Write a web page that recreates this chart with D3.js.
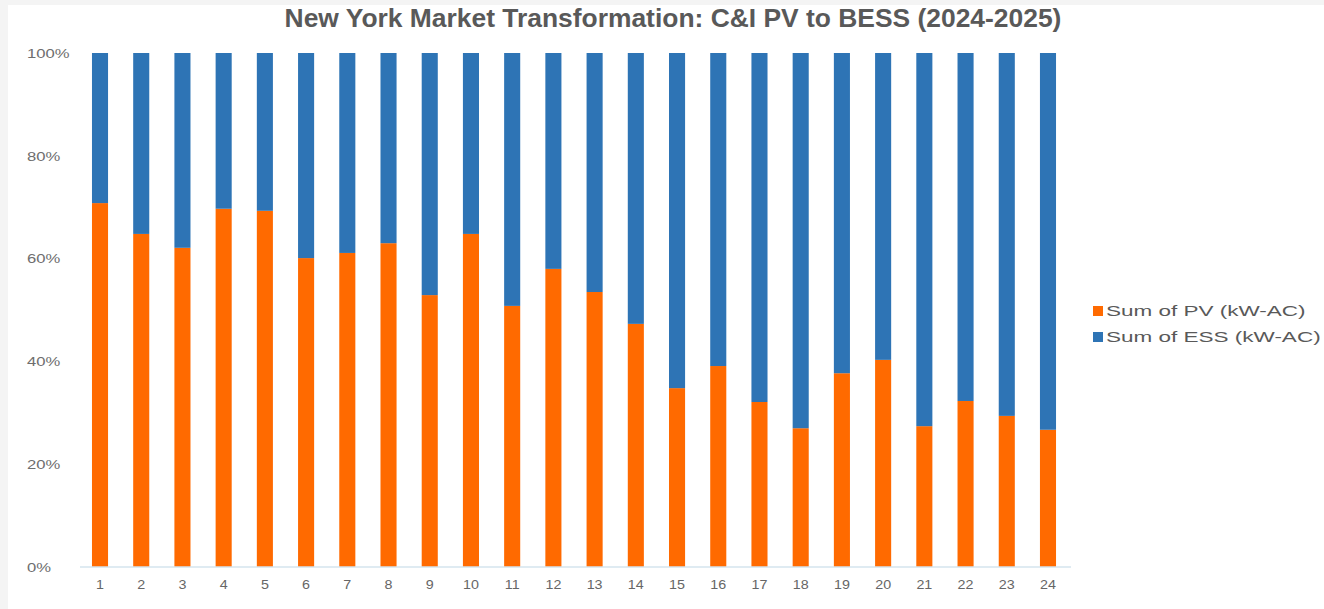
<!DOCTYPE html>
<html>
<head>
<meta charset="utf-8">
<script src="https://cdn.jsdelivr.net/npm/d3@7"></script>
<style>
  html, body { margin: 0; padding: 0; background: #f4f4f4; }
  svg { display: block; }
</style>
</head>
<body>
<svg id="chart" width="1324" height="609"></svg>
<script>
const categories = ["1","2","3","4","5","6","7","8","9","10","11","12","13","14","15","16","17","18","19","20","21","22","23","24"];
const pvShare = [0.708,0.648,0.621,0.697,0.693,0.601,0.611,0.630,0.529,0.648,0.508,0.580,0.535,0.473,0.348,0.391,0.321,0.270,0.377,0.403,0.274,0.323,0.294,0.267];
const essShare = pvShare.map(v => 1 - v);
const seriesNames = ["Sum of PV (kW-AC)", "Sum of ESS (kW-AC)"];
const yTicks = [0, 0.2, 0.4, 0.6, 0.8, 1.0];
const title = "New York Market Transformation: C&I PV to BESS (2024-2025)";

const colors = { pv: "#ff6a00", ess: "#2e74b5" };
const font = "Liberation Sans, Arial, sans-serif";

const svg = d3.select("#chart");
svg.append("rect").attr("x", 8).attr("y", 5).attr("width", 1316).attr("height", 604).attr("fill", "#ffffff");

const x = d3.scaleBand().domain(categories).range([79.4, 1068.6]).paddingInner(0.61).paddingOuter(0.305);
const y = d3.scaleLinear().domain([0, 1]).range([567, 53]);

const rows = categories.map((c, i) => ({ cat: c, pv: pvShare[i], ess: essShare[i] }));
const stacked = d3.stack().keys(["pv", "ess"])(rows);

svg.append("g").selectAll("g.series").data(stacked).join("g")
  .attr("class", "series")
  .attr("fill", d => colors[d.key])
  .selectAll("rect").data(d => d).join("rect")
  .attr("x", d => x(d.data.cat))
  .attr("width", x.bandwidth())
  .attr("y", d => y(d[1]))
  .attr("height", d => y(d[0]) - y(d[1]));

const yAxis = d3.axisLeft(y).tickValues(yTicks).tickFormat(d3.format(".0%")).tickSize(0).tickPadding(0);
const ya = svg.append("g").attr("transform", "translate(27,0)").call(yAxis);
ya.select(".domain").remove();
ya.selectAll("text")
  .attr("fill", "#6e6e6e").attr("font-family", font).attr("font-size", 12.5)
  .attr("text-anchor", "start").attr("dy", "0.35em")
  .each(function() {
    const w = this.getComputedTextLength();
    d3.select(this).attr("textLength", w * 1.33).attr("lengthAdjust", "spacingAndGlyphs");
  });

const xAxis = d3.axisBottom(x).tickSize(0).tickPadding(13);
const xa = svg.append("g").attr("transform", "translate(0,567)").call(xAxis);
xa.select(".domain").attr("stroke", "#d4e4ee").attr("stroke-width", 1.5).attr("d", "M80,0H1071");
xa.selectAll("text").attr("fill", "#666").attr("font-family", font).attr("font-size", 13)
  .each(function() {
    const w = this.getComputedTextLength();
    d3.select(this).attr("textLength", w * 1.1).attr("lengthAdjust", "spacingAndGlyphs");
  });

const t = svg.append("text")
  .attr("x", 673).attr("y", 27)
  .attr("text-anchor", "middle")
  .attr("font-family", font)
  .attr("font-weight", "bold")
  .attr("font-size", 20)
  .attr("fill", "#595959")
  .text(title);
const tw = t.node().getComputedTextLength();
t.attr("font-size", 20 * 777 / tw);

const legend = svg.append("g");
const legendItems = [{ name: seriesNames[0], color: colors.pv }, { name: seriesNames[1], color: colors.ess }];
legendItems.forEach((d, i) => {
  const cy = 311 + i * 26;
  legend.append("rect").attr("x", 1093).attr("y", cy - 5).attr("width", 10).attr("height", 10).attr("fill", d.color);
  const tx = legend.append("text").attr("x", 1106).attr("y", cy).attr("dy", "0.35em")
    .attr("font-family", font).attr("font-size", 15)
    .attr("fill", "#595959").text(d.name);
  const w = tx.node().getComputedTextLength();
  tx.attr("textLength", w * 1.5).attr("lengthAdjust", "spacingAndGlyphs");
});
</script>
</body>
</html>
